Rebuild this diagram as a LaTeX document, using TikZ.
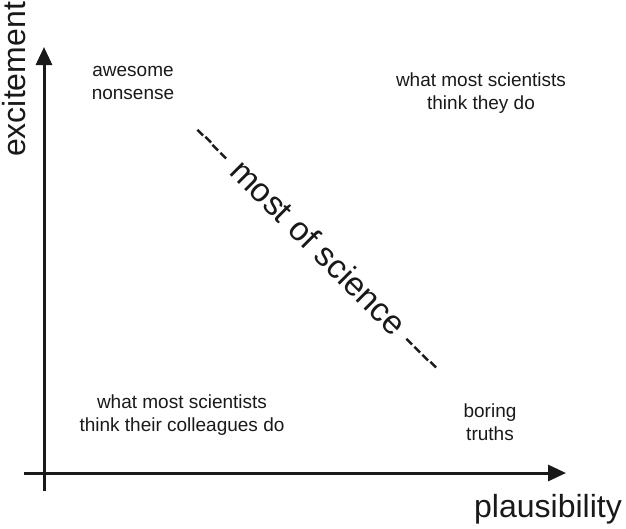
\documentclass[tikz,border=0pt]{standalone}
\usepackage{fontspec}
\setmainfont{Liberation Sans}
\usetikzlibrary{arrows.meta,positioning}

\begin{document}
\begin{tikzpicture}[
  x=1pt, y=-1pt,
  every node/.style={inner sep=0pt, text=black!90},
  axis/.style={-{Triangle[length=18pt,width=16pt]}, line width=3pt, black!90},
  axislabel/.style={font=\fontsize{32}{36}\selectfont},
  region/.style={font=\fontsize{19}{22.5}\selectfont, align=center}
]
  \useasboundingbox (0,0) rectangle (626,528);

  % axes
  \coordinate (xstart) at (24,473);
  \coordinate (xend) at (566,473);
  \coordinate (ystart) at (44,491);
  \coordinate (yend) at (44,47);
  \draw[axis] (xstart) -- (xend);
  \draw[axis] (ystart) -- (yend);

  \node[axislabel, anchor=base east] (plaus) at (622,517) {plausibility};
  \node[axislabel, rotate=90, anchor=base west] (excite) at (25,157) {excitement};

  % corners
  \node[region] (nonsense) at (133,83) {awesome\\nonsense};
  \node[region] (think) at (481,93) {what most scientists\\think they do};
  \node[region] (colleagues) at (182,415) {what most scientists\\think their colleagues do};
  \node[region] (boring) at (490,422) {boring\\truths};

  % diagonal
  \node[axislabel, font=\fontsize{33.5}{36}\selectfont, rotate=-45] (most) at (319,247)
    {-{}-{}-{}- most of science -{}-{}-{}-};
\end{tikzpicture}
\end{document}
